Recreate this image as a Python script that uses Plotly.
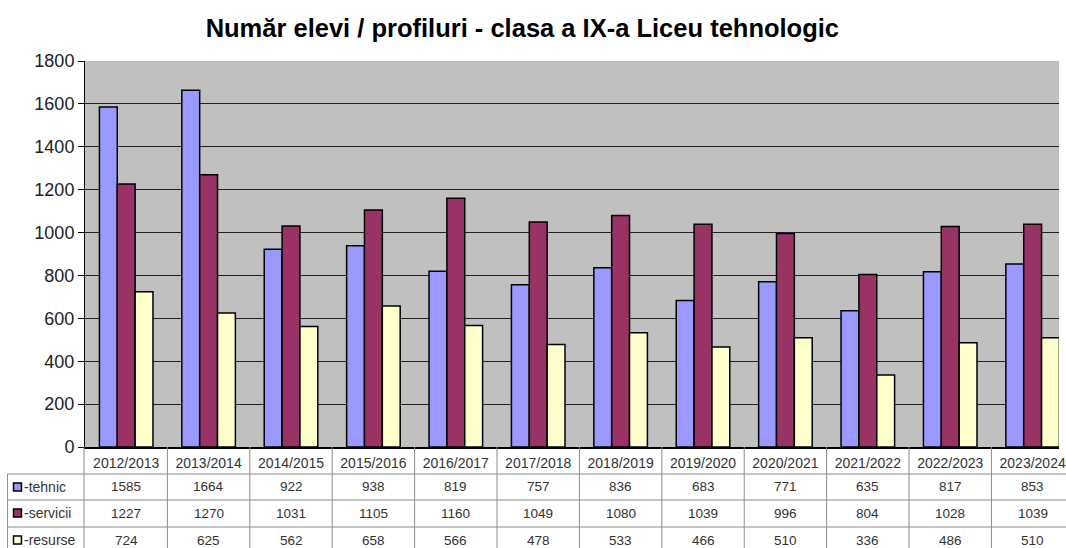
import plotly.graph_objects as go

ani = ["2012/2013", "2013/2014", "2014/2015", "2015/2016", "2016/2017", "2017/2018",
       "2018/2019", "2019/2020", "2020/2021", "2021/2022", "2022/2023", "2023/2024"]
tehnic = [1585, 1664, 922, 938, 819, 757, 836, 683, 771, 635, 817, 853]
servicii = [1227, 1270, 1031, 1105, 1160, 1049, 1080, 1039, 996, 804, 1028, 1039]
resurse = [724, 625, 562, 658, 566, 478, 533, 466, 510, 336, 486, 510]

serii = [("-tehnic", tehnic, "#9999FF"),
         ("-servicii", servicii, "#993366"),
         ("-resurse", resurse, "#FFFFCC")]

W, H = 1066, 548
L, R, T, B = 85, 0, 61, 101
plot_w = W - L - R
plot_h = H - T - B
bottom_px = H - B


def px(p):
    return (p - L) / plot_w


def py(p):
    return (bottom_px - p) / plot_h


fig = go.Figure()
for nume, vals, culoare in serii:
    fig.add_trace(go.Bar(x=ani, y=vals, name=nume, marker_color=culoare,
                         marker_line=dict(color="black", width=1.5)))

shapes = []
annotations = []
grey = "#8c8c8c"
row_lines = [474, 500, 527]
row_centers = [487, 513, 540]

# liniile tabelului
for r in row_lines:
    shapes.append(dict(type="line", xref="paper", yref="paper",
                       x0=px(7), x1=1.01, y0=py(r), y1=py(r),
                       line=dict(color=grey, width=1)))
for i in range(1, len(ani)):
    shapes.append(dict(type="line", xref="x", yref="paper",
                       x0=i - 0.5, x1=i - 0.5, y0=0, y1=py(H + 2),
                       line=dict(color=grey, width=1)))
shapes.append(dict(type="line", xref="paper", yref="paper", x0=px(84), x1=px(84),
                   y0=0, y1=py(H + 2), line=dict(color=grey, width=1)))
shapes.append(dict(type="line", xref="paper", yref="paper", x0=px(7), x1=px(7),
                   y0=py(474), y1=py(H + 2), line=dict(color=grey, width=1)))

for k, (nume, vals, culoare) in enumerate(serii):
    yc = py(row_centers[k])
    # cheia legendei
    shapes.append(dict(type="rect", xref="paper", yref="paper",
                       x0=px(13), x1=px(21), y0=yc - 4 / plot_h, y1=yc + 4 / plot_h,
                       fillcolor=culoare, line=dict(color="black", width=1.5)))
    annotations.append(dict(xref="paper", yref="paper", x=px(22), y=yc,
                            text=nume, showarrow=False, xanchor="left", yanchor="middle",
                            font=dict(size=14, color="#333")))
    for an, v in zip(ani, vals):
        annotations.append(dict(xref="x", yref="paper", x=an, y=yc, text=str(v),
                                showarrow=False, xanchor="center", yanchor="middle",
                                font=dict(size=13.5, color="#333")))

fig.update_layout(
    width=W, height=H,
    margin=dict(l=L, r=R, t=T, b=B),
    paper_bgcolor="white", plot_bgcolor="#C0C0C0",
    font=dict(family="Liberation Sans, Arial, sans-serif", color="black"),
    title=dict(text="<b>Număr elevi / profiluri - clasa a IX-a Liceu tehnologic</b>",
               x=0.49, xanchor="center", y=0.948, yanchor="middle",
               font=dict(size=25.5, color="black")),
    barmode="group", bargap=0.35, bargroupgap=0,
    showlegend=False,
    shapes=shapes, annotations=annotations,
)
fig.update_yaxes(range=[0, 1800], dtick=200, showgrid=True, gridcolor="#222",
                 gridwidth=1, showline=True, linecolor="black", linewidth=1,
                 ticks="outside", ticklen=6, tickcolor="black",
                 tickfont=dict(size=18, color="#222"), zeroline=False)
# zona graficului e taiata la dreapta, ca in imaginea originala
fig.update_xaxes(range=[-0.5, 11.32], showline=True, linecolor="black",
                 linewidth=1.5, ticks="", tickfont=dict(size=14, color="#333"),
                 ticklabelstandoff=2)

fig.write_html("out.html", config={"displayModeBar": False},
               post_script="document.body.style.margin='0';")
